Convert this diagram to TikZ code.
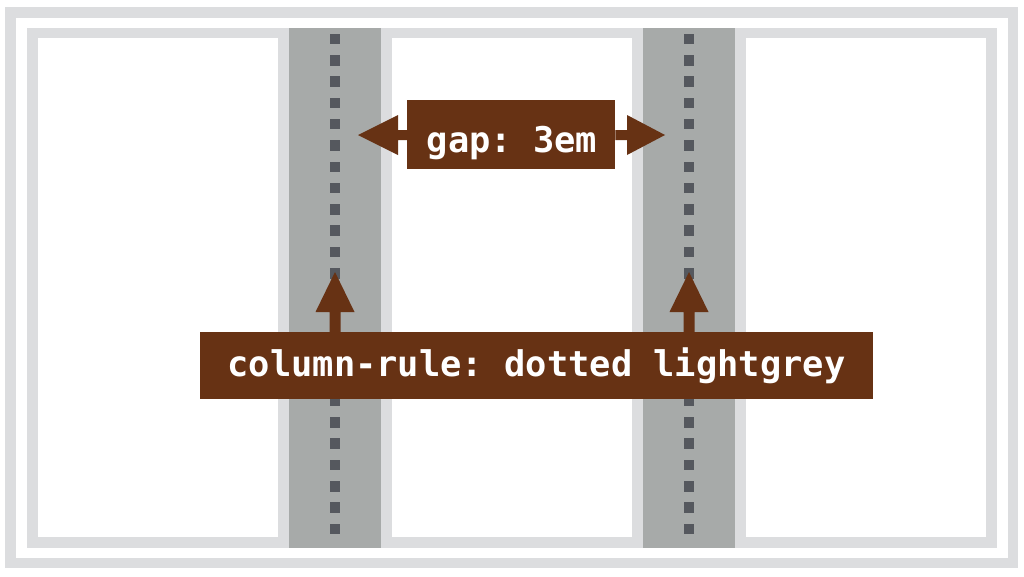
\documentclass[tikz,border=0pt]{standalone}
\usepackage{fontspec}
\setmonofont{DejaVu Sans Mono}
\definecolor{frame}{HTML}{DCDDDF}
\definecolor{gapgray}{HTML}{A7AAA9}
\definecolor{dotgray}{HTML}{55585E}
\definecolor{brown}{RGB}{103,50,20}
\tikzset{
  labelbox/.style={fill=brown, text=white, inner sep=0pt, font=\ttfamily\bfseries\fontsize{35.4}{40}\selectfont},
  arrowfill/.style={fill=brown},
  dotsq/.style={fill=dotgray},
}
\begin{document}
\begin{tikzpicture}[x=1pt,y=-1pt]
\useasboundingbox (0,0) rectangle (1024,576);
\fill[white] (0,0) rectangle (1024,576);
% outer frame
\draw[frame, line width=10.5pt] (10.5,12.5) rectangle (1013,563);
% container
\fill[frame] (27,28) rectangle (997,548);
\foreach \x in {38,392,746} {
  \fill[white] (\x,38) rectangle ++(240,499);
}
\fill[gapgray] (289,28) rectangle (381,548);
\fill[gapgray] (643,28) rectangle (735,548);
% dotted rules
\foreach \cx in {335,689} {
  \foreach \k in {0,...,23} {
    \fill[dotsq] ({\cx-5.25},{39+\k*21.3-5.25}) rectangle ++(10.5,10.5);
  }
}
% gap label with double arrow
\node[labelbox, minimum width=208pt, minimum height=69pt, anchor=north west] (gap) at (407,100) {};
\node[labelbox, text depth=0pt] (gaptext) at (512,139) {gap: 3em};
\coordinate (gl) at (358,135);
\coordinate (gr) at (665,135);
\fill[arrowfill] (gap.west |- 0,130) -- (398,130) -- (398,115) -- (gl) -- (398,155) -- (398,140) -- (gap.west |- 0,140) -- cycle;
\fill[arrowfill] (gap.east |- 0,130) -- (627,130) -- (627,115) -- (gr) -- (627,155) -- (627,140) -- (gap.east |- 0,140) -- cycle;
% column-rule label with up arrows
\node[labelbox, minimum width=673pt, minimum height=67pt, anchor=north west] (rule) at (200,332) {};
\node[labelbox] (ruletext) at (536.5,366) {column-rule: dotted lightgrey};
\coordinate (t1) at (335,272);
\coordinate (t2) at (689,272);
\foreach \t in {t1,t2} {
  \fill[arrowfill] ([xshift=-5.5pt]\t |- rule.north) -- ([xshift=-5.5pt]\t |- 0,312) -- ([xshift=-19.5pt]\t |- 0,312) -- (\t) -- ([xshift=19.5pt]\t |- 0,312) -- ([xshift=5.5pt]\t |- 0,312) -- ([xshift=5.5pt]\t |- rule.north) -- cycle;
}
\end{tikzpicture}
\end{document}
